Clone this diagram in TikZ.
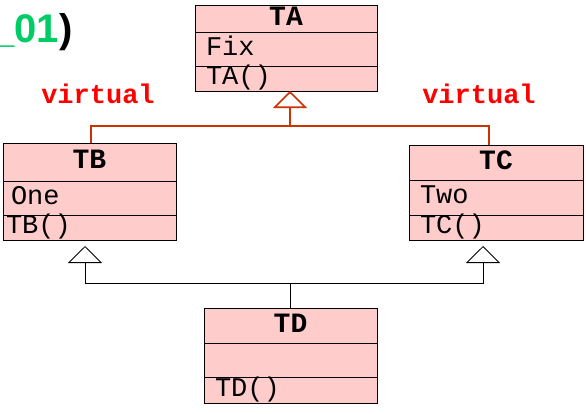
\documentclass[tikz,border=0pt]{standalone}
\usepackage{fontspec}
\setmonofont{Liberation Mono}
\newfontfamily\arialfont{Liberation Sans}
\usetikzlibrary{positioning,arrows.meta}
\definecolor{classpink}{RGB}{255,204,204}
\definecolor{virtred}{RGB}{204,51,0}
\definecolor{titlegreen}{RGB}{0,204,102}
\tikzset{
  chead/.style={draw, fill=classpink, line width=0.8pt, outer sep=0pt, inner sep=0pt,
    text height=17pt, text depth=4pt, font=\fontsize{28}{30}\selectfont\ttfamily\bfseries},
  cpart/.style={draw, fill=classpink, line width=0.8pt, outer sep=0pt, inner xsep=11pt, inner ysep=0pt,
    align=left, text height=17pt, text depth=5pt, font=\fontsize{27}{30}\selectfont\ttfamily},
  inh/.style={-{Triangle[open,width=34pt,length=17pt]}, line width=0.8pt},
  virt/.style={text=red, anchor=base, font=\fontsize{27}{30}\selectfont\ttfamily\bfseries},
}

\begin{document}
\begin{tikzpicture}[x=1pt,y=-1pt]
  \useasboundingbox (0,0) rectangle (586,413);
  \node[anchor=base east, font=\arialfont\bfseries\fontsize{40}{44}\selectfont] (title)
    at (76,42) {\textcolor{titlegreen}{\_01})};
  % base class
  \node[chead, minimum width=182, minimum height=27] (TA) at (286,18.5) {TA};
  \node[cpart, text width=160, minimum height=34, below=0pt of TA] (TAattr) {Fix};
  \node[cpart, text width=160, minimum height=25, below=0pt of TAattr] (TAop) {TA()};
  % derived classes
  \node[chead, minimum width=173, minimum height=38] (TB) at (89.5,162) {TB};
  \node[cpart, inner xsep=8pt, text width=157, minimum height=34, below=0pt of TB] (TBattr) {One};
  \node[cpart, inner xsep=3pt, text width=167, minimum height=25, below=0pt of TBattr] (TBop) {TB()};
  \node[chead, minimum width=174, minimum height=35] (TC) at (496,162.5) {TC};
  \node[cpart, text width=152, minimum height=35, below=0pt of TC] (TCattr) {Two};
  \node[cpart, text width=152, minimum height=25, below=0pt of TCattr] (TCop) {TC()};
  \node[chead, minimum width=173, minimum height=35] (TD) at (290.5,325.5) {TD};
  \node[cpart, text width=151, minimum height=34, below=0pt of TD] (TDattr) {};
  \node[cpart, text width=151, minimum height=26, below=0pt of TDattr] (TDop) {TD()};
  \node[virt] (vleft) at (98,103) {virtual};
  \node[virt] (vright) at (479,103) {virtual};
  % virtual inheritance
  \coordinate (vjoin) at (290,126);
  \draw[inh, virtred, line width=1.6pt] (vjoin) -- (vjoin |- TAop.south);
  \draw[virtred, line width=1.6pt] ([xshift=1.5]TB.north) |- (vjoin) -| ([xshift=-7]TC.north);
  % plain inheritance
  \coordinate (ijoin) at (290.5,283);
  \draw[inh] (ijoin) -| ([xshift=-4.5,yshift=-6]TBop.south);
  \draw[inh] (ijoin) -| ([xshift=-13,yshift=-6]TCop.south);
  \draw[line width=0.8pt] (TD.north) -- (ijoin);
\end{tikzpicture}
\end{document}
